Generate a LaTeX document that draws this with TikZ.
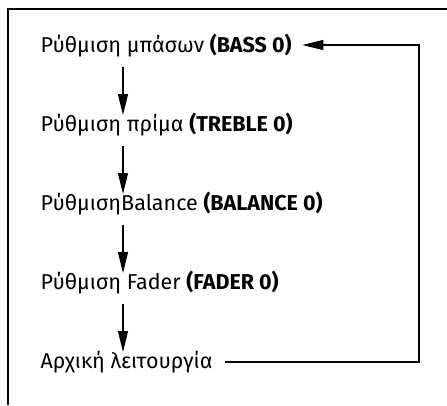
\documentclass[tikz,border=0pt]{standalone}
\usepackage{fontspec}
\setmainfont{Fira Sans}
\usetikzlibrary{positioning,arrows.meta,calc}

\begin{document}
\begin{tikzpicture}[>={Triangle[length=21pt,width=10pt]},
  node distance=79pt,
  line width=1.2pt,
  stepbox/.style={inner sep=0pt,anchor=base west,font=\fontsize{21.5}{25}\selectfont},
  flow/.style={->}]
\useasboundingbox (0,0) rectangle (447pt,-405pt);
% frame (only top and left sides are visible)
\draw[line width=1.4pt] (8pt,-405pt) -- (8pt,-9pt) -- (447pt,-9pt);

\node[stepbox] (bass) at (40pt,-52pt) {Ρύθμιση μπάσων \textbf{(BASS 0)}};
\node[stepbox] (treble) [below=of bass.base west,anchor=base west] {Ρύθμιση πρίμα \textbf{(TREBLE 0)}};
\node[stepbox] (balance) [below=of treble.base west,anchor=base west] {ΡύθμισηBalance \textbf{(BALANCE 0)}};
\node[stepbox] (fader) [below=of balance.base west,anchor=base west] {Ρύθμιση Fader \textbf{(FADER 0)}};
\node[stepbox] (home) [below=of fader.base west,anchor=base west] {Αρχική λειτουργία};

\draw[flow] ($(bass.base west)+(83pt,-15pt)$) -- ($(treble.base west)+(83pt,16pt)$);
\draw[flow] ($(treble.base west)+(83pt,-15pt)$) -- ($(balance.base west)+(83pt,16pt)$);
\draw[flow] ($(balance.base west)+(83pt,-15pt)$) -- ($(fader.base west)+(83pt,16pt)$);
\draw[flow] ($(fader.base west)+(83pt,-15pt)$) -- ($(home.base west)+(83pt,16pt)$);

% back to the start
\coordinate (loop) at (419pt,0);
\draw[flow] ($(home.base east)+(12pt,6pt)$) -- ($(home.base east -| loop)+(0,6pt)$)
  |- ($(bass.base east)+(10pt,7pt)$);
\end{tikzpicture}
\end{document}
